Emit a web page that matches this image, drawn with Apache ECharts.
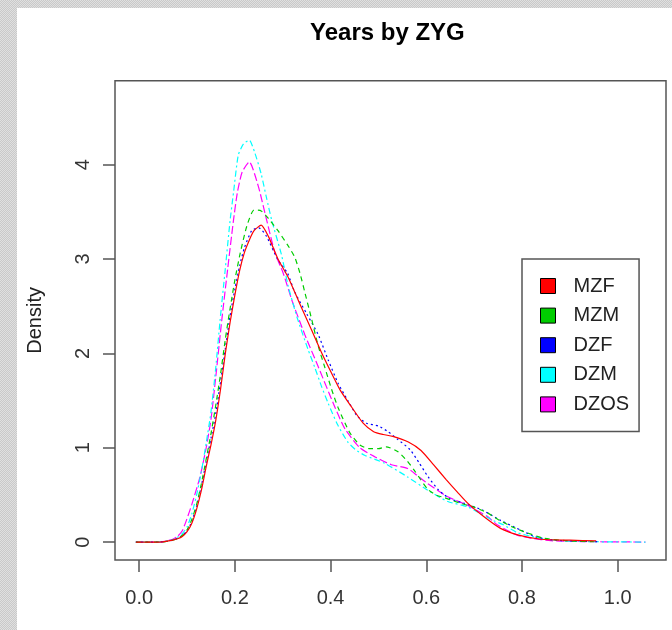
<!DOCTYPE html>
<html>
<head>
<meta charset="utf-8">
<script src="https://cdn.jsdelivr.net/npm/echarts@6/dist/echarts.min.js"></script>
<style>
  html, body { margin: 0; padding: 0; }
  body {
    width: 672px; height: 630px; overflow: hidden; position: relative;
    background: repeating-conic-gradient(#c9c9c9 0% 25%, #e0e0e0 0% 50%) 0 0 / 2px 2px;
  }
  #chart { position: absolute; left: 17px; top: 8px; width: 655px; height: 622px; background: #fff; }
</style>
</head>
<body>
<div id="chart"></div>
<script>
// groups and their density curves, [x, density]
const groups = ['MZF', 'MZM', 'DZF', 'DZM', 'DZOS'];
const xTicks = [0, 0.2, 0.4, 0.6, 0.8, 1.0];
const yTicks = [0, 1, 2, 3, 4];

const mzf = [[-0.007,0],[0.03,0],[0.05,0.003],[0.07,0.02],[0.08,0.035],[0.09,0.06],[0.1,0.11],[0.11,0.2],[0.12,0.35],[0.13,0.55],[0.14,0.8],[0.15,1.03],[0.16,1.29],[0.17,1.62],[0.18,2.0],[0.19,2.33],[0.2,2.62],[0.21,2.88],[0.22,3.07],[0.23,3.2],[0.24,3.3],[0.255,3.36],[0.27,3.24],[0.29,3.0],[0.312,2.8],[0.336,2.52],[0.36,2.25],[0.38,2.02],[0.4,1.81],[0.42,1.61],[0.44,1.46],[0.468,1.26],[0.49,1.17],[0.51,1.14],[0.53,1.12],[0.5625,1.06],[0.589,0.97],[0.615,0.82],[0.642,0.66],[0.665,0.53],[0.687,0.41],[0.72,0.27],[0.755,0.145],[0.793,0.074],[0.84,0.03],[0.9,0.02],[0.955,0.012]];
const mzm = [[-0.007,0],[0.03,0],[0.05,0.003],[0.07,0.02],[0.08,0.04],[0.09,0.07],[0.1,0.13],[0.11,0.24],[0.12,0.4],[0.13,0.62],[0.14,0.88],[0.15,1.15],[0.16,1.45],[0.17,1.78],[0.18,2.15],[0.186,2.35],[0.194,2.6],[0.2,2.78],[0.211,3.06],[0.225,3.35],[0.24,3.52],[0.255,3.51],[0.27,3.43],[0.29,3.3],[0.31,3.15],[0.325,3.02],[0.336,2.85],[0.346,2.65],[0.36,2.37],[0.374,2.08],[0.388,1.85],[0.402,1.62],[0.416,1.42],[0.44,1.16],[0.461,1.03],[0.481,0.99],[0.5,0.99],[0.516,1.01],[0.54,0.96],[0.56,0.86],[0.575,0.76],[0.603,0.56],[0.62,0.5],[0.638,0.47],[0.672,0.41],[0.7,0.37],[0.728,0.31],[0.75,0.24],[0.78,0.16],[0.804,0.11],[0.846,0.04],[0.9,0.012],[0.95,0.005]];
const dzf = [[-0.007,0],[0.03,0],[0.05,0.003],[0.07,0.02],[0.08,0.04],[0.09,0.07],[0.1,0.12],[0.11,0.22],[0.12,0.38],[0.13,0.6],[0.14,0.85],[0.15,1.1],[0.16,1.36],[0.17,1.7],[0.18,2.05],[0.19,2.4],[0.2,2.68],[0.21,2.93],[0.22,3.12],[0.235,3.3],[0.25,3.33],[0.265,3.25],[0.29,2.99],[0.31,2.85],[0.325,2.65],[0.35,2.42],[0.374,2.2],[0.395,1.93],[0.416,1.68],[0.436,1.5],[0.455,1.34],[0.475,1.26],[0.5,1.23],[0.52,1.17],[0.54,1.09],[0.566,0.98],[0.585,0.84],[0.604,0.69],[0.626,0.55],[0.649,0.46],[0.68,0.41],[0.717,0.34],[0.755,0.23],[0.8,0.12],[0.83,0.053],[0.87,0.02],[0.92,0.01],[0.96,0.005]];
const dzm = [[-0.007,0],[0.03,0],[0.05,0.003],[0.07,0.025],[0.08,0.05],[0.09,0.09],[0.1,0.16],[0.11,0.3],[0.12,0.5],[0.13,0.75],[0.14,1.05],[0.15,1.38],[0.16,1.85],[0.169,2.35],[0.18,2.9],[0.19,3.41],[0.197,3.7],[0.207,4.1],[0.218,4.22],[0.23,4.26],[0.242,4.12],[0.255,3.9],[0.266,3.65],[0.277,3.41],[0.2976,3.04],[0.3115,2.71],[0.33,2.38],[0.353,2.04],[0.367,1.85],[0.381,1.65],[0.395,1.47],[0.415,1.24],[0.436,1.06],[0.452,0.98],[0.471,0.92],[0.513,0.835],[0.561,0.69],[0.603,0.55],[0.645,0.43],[0.686,0.375],[0.707,0.32],[0.735,0.24],[0.762,0.18],[0.79,0.1],[0.82,0.06],[0.86,0.025],[0.9,0.01],[0.95,0.004],[1.0,0.002],[1.058,0]];
const dzos = [[-0.007,0],[0.03,0],[0.05,0.004],[0.07,0.03],[0.08,0.06],[0.09,0.12],[0.0986,0.23],[0.11,0.4],[0.127,0.69],[0.14,1.0],[0.15,1.3],[0.16,1.75],[0.1725,2.35],[0.185,2.9],[0.197,3.41],[0.205,3.7],[0.215,3.92],[0.23,4.03],[0.249,3.77],[0.266,3.42],[0.284,3.06],[0.301,2.85],[0.32,2.55],[0.346,2.2],[0.374,1.86],[0.409,1.43],[0.43,1.2],[0.461,1.0],[0.492,0.905],[0.527,0.82],[0.561,0.78],[0.58,0.71],[0.603,0.62],[0.645,0.48],[0.686,0.39],[0.728,0.27],[0.749,0.18],[0.79,0.074],[0.82,0.04],[0.86,0.015],[0.9,0.008],[0.95,0.004],[1.0,0.002],[1.058,0]];

const curves = [mzf, mzm, dzf, dzm, dzos];
const colors = ['#ff0000', '#00cd00', '#0000ff', '#00ffff', '#ff00ff'];
const dashes = ['solid', [5, 4], [2, 3], [2, 3, 6, 3], [8, 3]];

const font = "'Liberation Sans', Arial, sans-serif";
const axisGray = '#555';

const chart = echarts.init(document.getElementById('chart'), null, { renderer: 'canvas' });

chart.setOption({
  animation: false,
  title: {
    text: 'Years by ZYG',
    left: 293, top: 13, padding: 0,
    textStyle: { fontFamily: font, fontSize: 24, fontWeight: 'bold', color: '#000' }
  },
  legend: {
    data: groups,
    orient: 'vertical',
    left: 505, top: 251,
    padding: [17, 10, 17, 18],
    itemWidth: 15, itemHeight: 15, itemGap: 9.6,
    icon: 'rect',
    itemStyle: { borderColor: '#000', borderWidth: 1 },
    borderColor: axisGray, borderWidth: 1.5, backgroundColor: '#fff',
    textStyle: { fontFamily: font, fontSize: 20, color: '#222', lineHeight: 15, padding: [0, 0, 0, 13] }
  },
  grid: {
    left: 95.7, right: 6, top: 72.7, bottom: 70,
    show: true, borderColor: axisGray, borderWidth: 1.5
  },
  xAxis: {
    type: 'value', min: -0.0506, max: 1.101,
    axisLine: { show: false, onZero: false }, splitLine: { show: false },
    axisTick: { customValues: xTicks, length: 12, lineStyle: { color: axisGray, width: 1.5 } },
    axisLabel: {
      customValues: xTicks, formatter: v => v.toFixed(1),
      fontFamily: font, fontSize: 20, color: '#333', margin: 28
    }
  },
  yAxis: {
    type: 'value', min: -0.19, max: 4.89,
    name: 'Density', nameLocation: 'middle', nameGap: 70,
    nameTextStyle: { fontFamily: font, fontSize: 20, color: '#222' },
    axisLine: { show: false, onZero: false }, splitLine: { show: false },
    axisTick: { customValues: yTicks, length: 12, lineStyle: { color: axisGray, width: 1.5 } },
    axisLabel: {
      customValues: yTicks, rotate: 90,
      fontFamily: font, fontSize: 20, color: '#333', margin: 22
    }
  },
  series: groups.map((g, i) => ({
    name: g,
    type: 'line',
    data: curves[i],
    showSymbol: false,
    smooth: 0.2,
    color: colors[i],
    lineStyle: { color: colors[i], width: 1.2, type: dashes[i] },
    z: 10 - i
  }))
});
</script>
</body>
</html>
